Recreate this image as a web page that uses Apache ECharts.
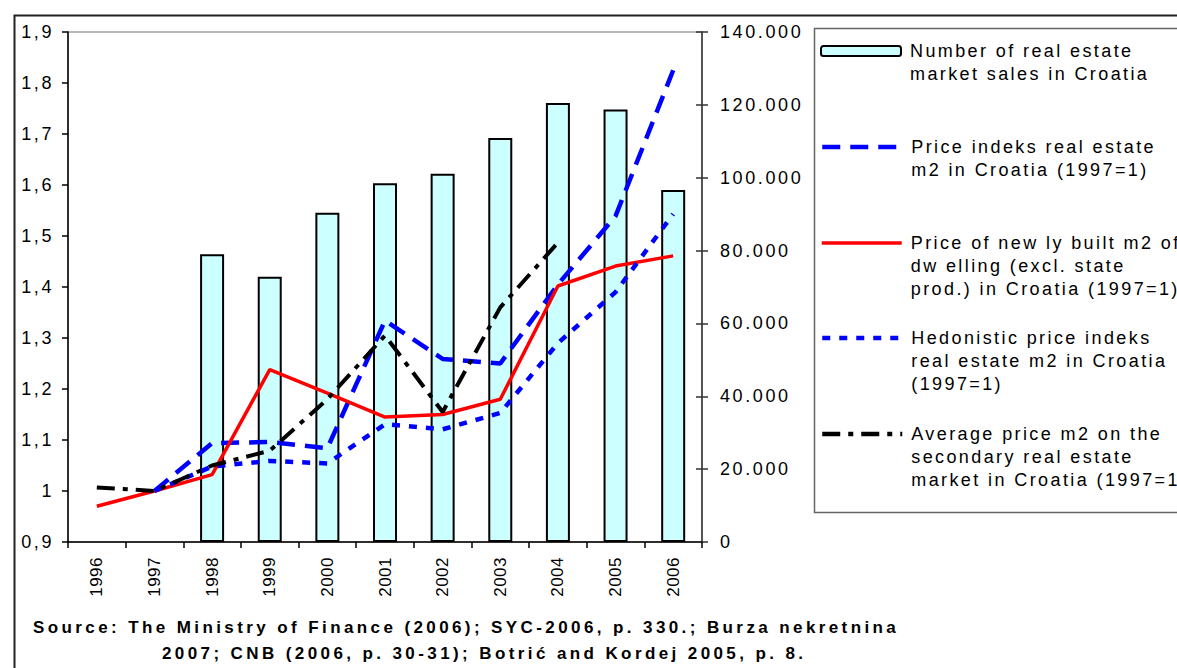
<!DOCTYPE html>
<html>
<head>
<meta charset="utf-8">
<script src="https://cdn.jsdelivr.net/npm/echarts@6/dist/echarts.min.js"></script>
<style>
  html, body { margin: 0; padding: 0; background: #fff; }
  #chart { width: 1177px; height: 668px; }
  #chart text[style*="Liberation Sans"] { letter-spacing: 2.4px; }
  #chart text[style*="Arial"] { letter-spacing: 2.6px; }
  #chart text[style*="Helvetica"] { letter-spacing: 0.5px; }
  #chart text[style*="bold"] { letter-spacing: 3.4px; }
</style>
</head>
<body>
<div id="chart"></div>
<script>
// ---- data ----
var years = ['1996','1997','1998','1999','2000','2001','2002','2003','2004','2005','2006'];
var salesCount = [null, null, 79000, 72800, 90400, 98500, 101100, 110900, 120500, 118700, 96600];
var priceIndex = [null, 1.0, 1.094, 1.096, 1.084, 1.334, 1.259, 1.25, 1.405, 1.539, 1.825];
var newBuiltPrice = [0.97, 1.0, 1.032, 1.238, 1.192, 1.145, 1.15, 1.18, 1.402, 1.441, 1.461];
var hedonicIndex = [null, 1.0, 1.048, 1.059, 1.054, 1.131, 1.121, 1.153, 1.29, 1.39, 1.543];
var secondaryPrice = [1.007, 1.0, 1.05, 1.079, 1.18, 1.305, 1.155, 1.36, 1.487, null, null];
var leftTickLabels = ['0,9','1','1,1','1,2','1,3','1,4','1,5','1,6','1,7','1,8','1,9'];
var rightTickLabels = ['0','20.000','40.000','60.000','80.000','100.000','120.000','140.000'];
var seriesNames = [
  'Number of real estate\nmarket sales in Croatia',
  'Price indeks real estate\nm2 in Croatia (1997=1)',
  'Price of new ly built m2 of\ndw elling (excl. state\nprod.) in Croatia (1997=1)',
  'Hedonistic price indeks\nreal estate m2 in Croatia\n(1997=1)',
  'Average price m2 on the\nsecondary real estate\nmarket in Croatia (1997=1)'
];
var sourceLines = [
  'Source: The Ministry of Finance (2006); SYC-2006, p. 330.; Burza nekretnina',
  '2007; CNB (2006, p. 30-31); Botrić and Kordej 2005, p. 8.'
];

// ---- chart ----
var chart = echarts.init(document.getElementById('chart'), null, {renderer: 'svg'});
var LH = 23;
var legendIconCenters = [51, 147, 243, 338, 434];
function legendFor(i, isLine) {
  var n = seriesNames[i].split('\n').length;
  var pre = new Array(n).join('\n');
  var lg = {
    left: 820,
    top: legendIconCenters[i] - (2 * n - 1) * LH / 2,
    padding: 0,
    itemWidth: 80,
    itemHeight: 10,
    selectedMode: false,
    formatter: function (name) { return pre + name; },
    data: [{name: seriesNames[i]}],
    textStyle: {fontFamily: 'Liberation Sans', fontSize: 18, lineHeight: LH, color: '#000', padding: [0, 0, 0, 4]}
  };
  if (isLine) {
    lg.itemStyle = {opacity: 0, borderWidth: 0};
    lg.lineStyle = {width: i === 2 ? 3.5 : 4.5};
  }
  return lg;
}

var axisLabelFont = {fontFamily: 'Arial', fontSize: 18, color: '#000'};

var option = {
  backgroundColor: '#fff',
  animation: false,
  grid: {left: 68, right: 475, top: 32, bottom: 126, show: true, borderColor: '#a0a0a0', borderWidth: 1.5},
  xAxis: {
    type: 'category',
    data: years,
    axisLine: {lineStyle: {color: '#000', width: 1.5}},
    axisTick: {show: true, length: 6, lineStyle: {color: '#000', width: 1.5}},
    axisLabel: {rotate: 90, margin: 15, fontFamily: 'Helvetica', fontSize: 17, color: '#000'},
    splitLine: {show: false}
  },
  yAxis: [
    {
      type: 'value', position: 'left', min: 0.9, max: 1.9, interval: 0.1,
      axisLine: {show: true, lineStyle: {color: '#000', width: 1.5}},
      axisTick: {show: true, length: 6, lineStyle: {color: '#000', width: 1.5}},
      axisLabel: Object.assign({margin: 14, formatter: function (v) {
        return leftTickLabels[Math.round((v - 0.9) * 10)];
      }}, axisLabelFont),
      splitLine: {show: false}
    },
    {
      type: 'value', position: 'right', min: 0, max: 140000, interval: 20000,
      axisLine: {show: true, lineStyle: {color: '#333', width: 1.5}},
      axisTick: {show: true, length: 6, lineStyle: {color: '#333', width: 1.5}},
      axisLabel: Object.assign({margin: 18, formatter: function (v) {
        return rightTickLabels[Math.round(v / 20000)];
      }}, axisLabelFont),
      splitLine: {show: false}
    },
    {
      type: 'value', position: 'right', min: 0, max: 140000, interval: 20000,
      axisLine: {show: false},
      axisTick: {show: true, inside: true, length: 6, lineStyle: {color: '#333', width: 1.5}},
      axisLabel: {show: false},
      splitLine: {show: false}
    }
  ],
  legend: [
    legendFor(0, false),
    legendFor(1, true),
    legendFor(2, true),
    legendFor(3, true),
    legendFor(4, true)
  ],
  series: [
    {
      name: seriesNames[0], type: 'bar', yAxisIndex: 1, data: salesCount, barWidth: 24,
      itemStyle: {color: '#CCFFFF', borderColor: '#000', borderWidth: 2}
    },
    {
      name: seriesNames[1], type: 'line', yAxisIndex: 0, data: priceIndex, symbol: 'none',
      lineStyle: {color: '#0000FF', width: 4.5, type: [18, 10], cap: 'butt'},
      itemStyle: {color: '#0000FF'}
    },
    {
      name: seriesNames[2], type: 'line', yAxisIndex: 0, data: newBuiltPrice, symbol: 'none',
      lineStyle: {color: '#FF0000', width: 3.5},
      itemStyle: {color: '#FF0000'}
    },
    {
      name: seriesNames[3], type: 'line', yAxisIndex: 0, data: hedonicIndex, symbol: 'none',
      lineStyle: {color: '#0000FF', width: 4.5, type: [8, 9], cap: 'butt'},
      itemStyle: {color: '#0000FF'}
    },
    {
      name: seriesNames[4], type: 'line', yAxisIndex: 0, data: secondaryPrice, symbol: 'none',
      lineStyle: {color: '#000', width: 4, type: [18, 8, 5, 8], cap: 'butt'},
      itemStyle: {color: '#000'}
    }
  ],
  graphic: [
    {type: 'rect', left: 12, top: 13, z: 100, silent: true,
      shape: {x: 0, y: 0, width: 1300, height: 800},
      style: {fill: null, stroke: '#222', lineWidth: 2}},
    {type: 'rect', left: 812, top: 26, z: 100, silent: true,
      shape: {x: 0, y: 0, width: 500, height: 484},
      style: {fill: null, stroke: '#666', lineWidth: 1.5}},
    {type: 'text', left: 33, top: 619, silent: true,
      style: {text: sourceLines[0], font: 'bold 17px "Liberation Sans"', fill: '#000'}},
    {type: 'text', left: 162, top: 645, silent: true,
      style: {text: sourceLines[1], font: 'bold 17px "Liberation Sans"', fill: '#000'}}
  ]
};
chart.setOption(option);
</script>
</body>
</html>
